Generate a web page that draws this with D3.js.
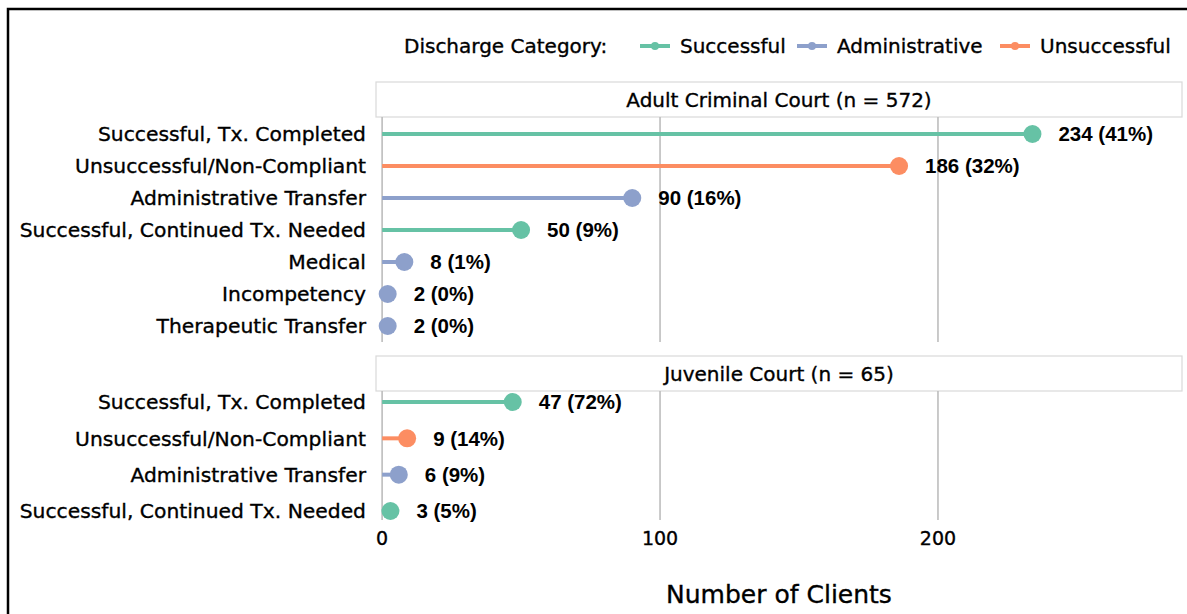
<!DOCTYPE html>
<html>
<head>
<meta charset="utf-8">
<script src="https://cdn.jsdelivr.net/npm/d3@7"></script>
<style>
  body { margin: 0; background: #fff; }
  svg text { font-family: "DejaVu Sans", Tahoma, sans-serif; fill: #000; stroke: #000; stroke-width: 0.35px; }
  .val { font-family: "Liberation Sans", Arial, sans-serif; font-weight: bold; stroke: none; }
</style>
</head>
<body>
<div id="my_dataviz"></div>
<script>
// data
const groups = ["Successful", "Administrative", "Unsuccessful"];
const groupColors = ["#66c2a5", "#8da0cb", "#fc8d62"];

const adultCategories = ["Successful, Tx. Completed", "Unsuccessful/Non-Compliant", "Administrative Transfer",
  "Successful, Continued Tx. Needed", "Medical", "Incompetency", "Therapeutic Transfer"];
const adultGroups = ["Successful", "Unsuccessful", "Administrative", "Successful", "Administrative", "Administrative", "Administrative"];
const adultValues = [234, 186, 90, 50, 8, 2, 2];
const adultPct = [41, 32, 16, 9, 1, 0, 0];

const juvCategories = ["Successful, Tx. Completed", "Unsuccessful/Non-Compliant", "Administrative Transfer",
  "Successful, Continued Tx. Needed"];
const juvGroups = ["Successful", "Unsuccessful", "Administrative", "Successful"];
const juvValues = [47, 9, 6, 3];
const juvPct = [72, 14, 9, 5];

const panelTitles = ["Adult Criminal Court (n = 572)", "Juvenile Court (n = 65)"];
const xTicks = [0, 100, 200];

function init() {
    const width = 1187, height = 614;

    const svg = d3.select("#my_dataviz")
        .append("svg")
        .attr("width", width)
        .attr("height", height);

    // outer frame (only left and top show in the crop)
    svg.append("rect")
        .attr("x", 8).attr("y", 9)
        .attr("width", width + 20).attr("height", height + 20)
        .attr("fill", "none")
        .attr("stroke", "#000")
        .attr("stroke-width", 2.5);

    const color = d3.scaleOrdinal().domain(groups).range(groupColors);

    const panelLeft = 376, panelRight = 1182;
    const x = d3.scaleLinear().domain([-2.2, 287.8]).range([panelLeft, panelRight]);

    const panels = [
        { title: panelTitles[0], cats: adultCategories, grp: adultGroups, vals: adultValues, pct: adultPct,
          stripTop: 82, top: 117, bottom: 342, first: 134, last: 326 },
        { title: panelTitles[1], cats: juvCategories, grp: juvGroups, vals: juvValues, pct: juvPct,
          stripTop: 356, top: 391, bottom: 520, first: 402, last: 511 }
    ];

    panels.forEach(p => {
        const g = svg.append("g");
        const y = d3.scalePoint().domain(p.cats).range([p.first, p.last]);

        // strip
        g.append("rect")
            .attr("x", panelLeft).attr("y", p.stripTop)
            .attr("width", panelRight - panelLeft).attr("height", p.top - p.stripTop)
            .attr("fill", "#fff")
            .attr("stroke", "#d9d9d9")
            .attr("stroke-width", 1.2);
        g.append("text")
            .attr("x", (panelLeft + panelRight) / 2)
            .attr("y", (p.stripTop + p.top) / 2)
            .attr("dy", "0.36em")
            .attr("text-anchor", "middle")
            .style("font-size", "20px")
            .text(p.title);

        // vertical grid
        g.selectAll("line.grid")
            .data(xTicks)
            .join("line")
            .attr("class", "grid")
            .attr("x1", d => x(d)).attr("x2", d => x(d))
            .attr("y1", p.top).attr("y2", p.bottom)
            .attr("stroke", "#bdbdbd")
            .attr("stroke-width", 1.6);

        const rows = p.cats.map((c, i) => ({ cat: c, grp: p.grp[i], val: p.vals[i], pct: p.pct[i] }));

        // stems
        g.selectAll("line.stem")
            .data(rows)
            .join("line")
            .attr("class", "stem")
            .attr("x1", x(0)).attr("x2", d => x(d.val))
            .attr("y1", d => y(d.cat)).attr("y2", d => y(d.cat))
            .attr("stroke", d => color(d.grp))
            .attr("stroke-width", 4);

        // heads
        g.selectAll("circle")
            .data(rows)
            .join("circle")
            .attr("cx", d => x(d.val))
            .attr("cy", d => y(d.cat))
            .attr("r", 9)
            .attr("fill", d => color(d.grp));

        // value labels
        g.selectAll("text.val")
            .data(rows)
            .join("text")
            .attr("class", "val")
            .attr("x", d => x(d.val) + 26)
            .attr("y", d => y(d.cat))
            .attr("dy", "0.36em")
            .style("font-size", "20.5px")
            .text(d => `${d.val} (${d.pct}%)`);

        // category labels
        g.selectAll("text.cat")
            .data(rows)
            .join("text")
            .attr("class", "cat")
            .attr("x", 366)
            .attr("y", d => y(d.cat))
            .attr("dy", "0.36em")
            .attr("text-anchor", "end")
            .style("font-size", "20.3px")
            .text(d => d.cat);
    });

    // x axis tick labels
    svg.selectAll("text.xtick")
        .data(xTicks)
        .join("text")
        .attr("class", "xtick")
        .attr("x", d => x(d))
        .attr("y", 538)
        .attr("dy", "0.36em")
        .attr("text-anchor", "middle")
        .style("font-size", "19px")
        .text(d => d);

    svg.append("text")
        .attr("x", (panelLeft + panelRight) / 2)
        .attr("y", 594)
        .attr("dy", "0.36em")
        .attr("text-anchor", "middle")
        .style("font-size", "25px")
        .text("Number of Clients");

    // legend
    const legend = svg.append("g").attr("transform", "translate(0,46)");
    legend.append("text")
        .attr("x", 404).attr("dy", "0.36em")
        .style("font-size", "20px")
        .text("Discharge Category:");
    const keyX = [640, 797, 1000];
    groups.forEach((gname, i) => {
        const k = legend.append("g").attr("transform", `translate(${keyX[i]},0)`);
        k.append("line").attr("x1", 0).attr("x2", 30)
            .attr("stroke", color(gname)).attr("stroke-width", 4);
        k.append("circle").attr("cx", 15).attr("r", 4).attr("fill", color(gname));
        k.append("text").attr("x", 40).attr("dy", "0.36em")
            .style("font-size", "20px")
            .text(gname);
    });
}

window.onload = init;
</script>
</body>
</html>
